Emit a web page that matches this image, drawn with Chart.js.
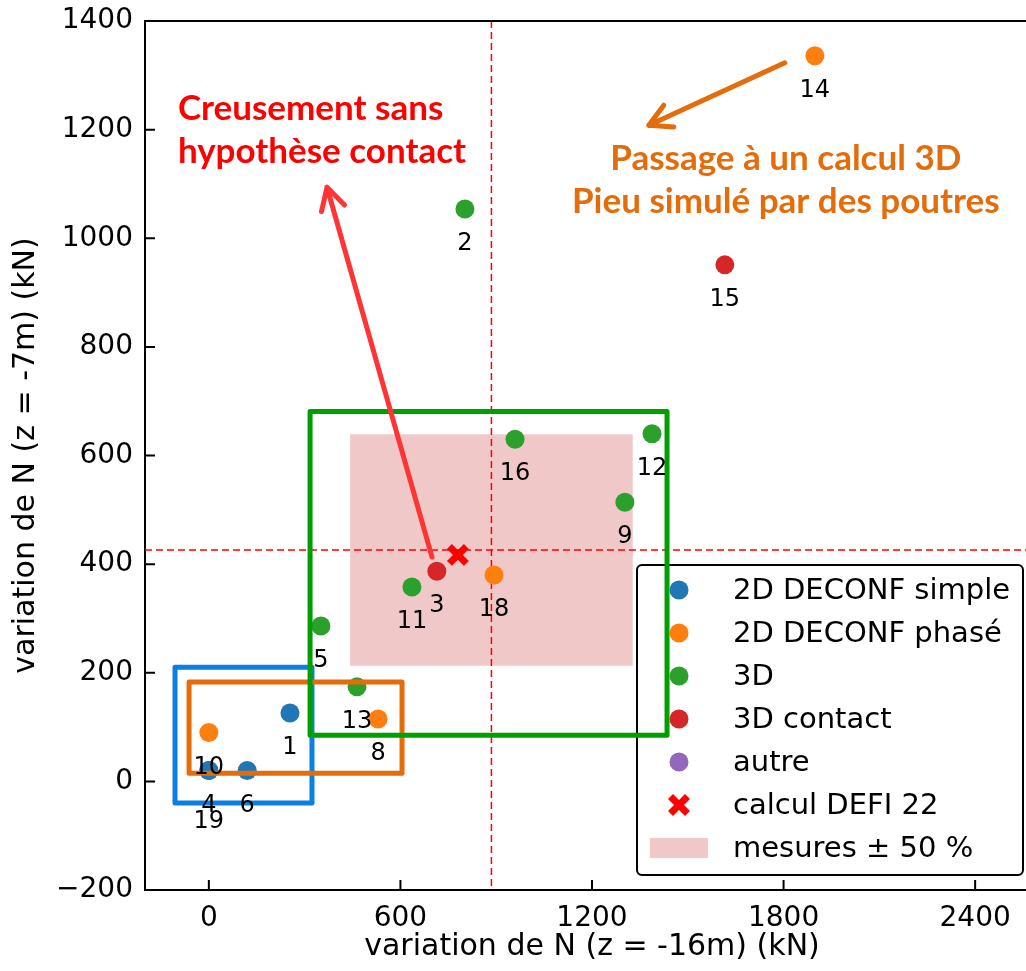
<!DOCTYPE html>
<html>
<head>
<meta charset="utf-8">
<script src="https://cdn.jsdelivr.net/npm/chart.js@4.4.1/dist/chart.umd.min.js"></script>
<style>
  html, body { margin: 0; padding: 0; background: #fff; overflow: hidden; }
  #wrap { width: 1040px; height: 971px; }
</style>
</head>
<body>
<div id="wrap"><canvas id="chart" width="1040" height="971"></canvas></div>
<script>
// point values (kN)
var simpleIds = [1, 4, 6, 19];
var simpleX = [254, 0, 120, 0];
var simpleY = [126, 20, 20, 20];

var phaseIds = [10, 8, 18, 14];
var phaseX = [0, 530, 893, 1898];
var phaseY = [90, 115, 380, 1336];

var d3Ids = [2, 5, 11, 13, 16, 9, 12];
var d3X = [802, 351, 636, 464, 959, 1303, 1388];
var d3Y = [1054, 286, 358, 174, 630, 514, 640];

var contactIds = [3, 15];
var contactX = [714, 1616];
var contactY = [387, 951];

var defiX = [780];
var defiY = [417];

// measured values, shown as dashed lines and a +/- 50 % band
var mesureX = 885;
var mesureY = 426;

// groups outlined by rectangles [xmin, xmax, ymin, ymax]
var boxSimple = [-106, 323, -40, 210];
var boxPhase = [-62, 605, 15, 183];
var box3D = [317, 1435, 85, 681];

var xTicks = [0, 600, 1200, 1800, 2400];
var yTicks = [-200, 0, 200, 400, 600, 800, 1000, 1200, 1400];

var legendNames = ['2D DECONF simple', '2D DECONF phasé', '3D', '3D contact', 'autre', 'calcul DEFI 22', 'mesures ± 50 %'];
var xTitle = 'variation de N (z = -16m) (kN)';
var yTitle = 'variation de N (z = -7m) (kN)';

function pts(xs, ys) {
  return xs.map(function(x, i) { return {x: x, y: ys[i]} })
}

var colors = {
  simple: '#1f77b4', phase: '#ff7f0e', d3: '#2ca02c', contact: '#d62728', autre: '#9467bd'
}

// annotations (arrows and comments)
var notes = {
  red: {from: [699, 413], to: [370, 1094], color: '#ff3535'},
  orange: {from: [1804, 1323], to: [1378, 1208], color: '#e46c0a'},
  redText: {lines: ['Creusement sans', 'hypothèse contact'], x: -97, y: [1218, 1139], color: '#ff0000', align: 'left'},
  orangeText: {lines: ['Passage à un calcul 3D', 'Pieu simulé par des poutres'], x: 1807, y: [1126, 1046], color: '#e46c0a', align: 'center'}
}
var labelNudge = {19: 16};

function minus(v) { return v < 0 ? '\u2212' + Math.abs(v) : '' + v }

function drawArrow(ctx, x1, y1, x2, y2, color) {
  var a = Math.atan2(y2 - y1, x2 - x1);
  var len = 25, spread = 0.5;
  ctx.save();
  ctx.strokeStyle = color;
  ctx.lineWidth = 5;
  ctx.lineCap = 'round';
  ctx.lineJoin = 'round';
  ctx.beginPath();
  ctx.moveTo(x1, y1);
  ctx.lineTo(x2, y2);
  ctx.moveTo(x2 - len * Math.cos(a - spread), y2 - len * Math.sin(a - spread));
  ctx.lineTo(x2, y2);
  ctx.lineTo(x2 - len * Math.cos(a + spread), y2 - len * Math.sin(a + spread));
  ctx.stroke();
  ctx.restore();
}

function drawX(ctx, cx, cy) {
  ctx.save();
  ctx.strokeStyle = '#ff0000';
  ctx.lineWidth = 7;
  ctx.beginPath();
  ctx.moveTo(cx - 8.5, cy - 8.5); ctx.lineTo(cx + 8.5, cy + 8.5);
  ctx.moveTo(cx - 8.5, cy + 8.5); ctx.lineTo(cx + 8.5, cy - 8.5);
  ctx.stroke();
  ctx.restore();
}

var decor = {
  id: 'decor',
  beforeDatasetsDraw: function(chart) {
    var ctx = chart.ctx, xs = chart.scales.x, ys = chart.scales.y, a = chart.chartArea;
    ctx.save();
    // band +/- 50 %
    var l = xs.getPixelForValue(mesureX * 0.5), r = xs.getPixelForValue(mesureX * 1.5);
    var t = ys.getPixelForValue(mesureY * 1.5), b = ys.getPixelForValue(mesureY * 0.5);
    ctx.fillStyle = '#f0c8c8';
    ctx.fillRect(l, t, r - l, b - t);
    // measured values
    ctx.strokeStyle = '#ff0000';
    ctx.lineWidth = 1.5;
    ctx.setLineDash([7, 4]);
    var px = xs.getPixelForValue(mesureX), py = ys.getPixelForValue(mesureY);
    ctx.beginPath();
    ctx.moveTo(px, a.top); ctx.lineTo(px, a.bottom);
    ctx.moveTo(a.left, py); ctx.lineTo(chart.width, py);
    ctx.stroke();
    ctx.restore();
  },
  afterDatasetsDraw: function(chart) {
    var ctx = chart.ctx, xs = chart.scales.x, ys = chart.scales.y, a = chart.chartArea;
    function X(v) { return xs.getPixelForValue(v) }
    function Y(v) { return ys.getPixelForValue(v) }

    // legend
    ctx.save();
    var lx = 637, ly = 565, lw = 386, lh = 310;
    ctx.beginPath();
    ctx.roundRect(lx, ly, lw, lh, 5);
    ctx.fillStyle = 'rgba(255,255,255,0.85)';
    ctx.fill();
    ctx.lineWidth = 2;
    ctx.strokeStyle = '#000';
    ctx.stroke();
    var markCols = [colors.simple, colors.phase, colors.d3, colors.contact, colors.autre];
    ctx.font = '29px "DejaVu Sans"';
    ctx.textBaseline = 'middle';
    ctx.textAlign = 'left';
    legendNames.forEach(function(name, i) {
      var ry = 590 + i * 43;
      if (i < 5) {
        ctx.beginPath();
        ctx.arc(679, ry, 9.5, 0, Math.PI * 2);
        ctx.fillStyle = markCols[i];
        ctx.fill();
      } else if (i == 5) {
        drawX(ctx, 679, ry);
      } else {
        ctx.fillStyle = '#f0c8c8';
        ctx.fillRect(650, ry - 10, 58, 20);
      }
      ctx.fillStyle = '#000';
      ctx.fillText(name, 733, ry + 1);
    });
    ctx.restore();

    // group rectangles
    ctx.save();
    ctx.lineWidth = 5;
    ctx.lineJoin = 'round';
    [[boxSimple, '#0a7fe0'], [boxPhase, '#e46c0a'], [box3D, '#009f00']].forEach(function(bx) {
      var r = bx[0];
      ctx.strokeStyle = bx[1];
      ctx.strokeRect(X(r[0]), Y(r[3]), X(r[1]) - X(r[0]), Y(r[2]) - Y(r[3]));
    });
    ctx.restore();

    // point numbers
    ctx.save();
    ctx.font = '24px "DejaVu Sans"';
    ctx.fillStyle = '#000';
    ctx.textAlign = 'center';
    ctx.textBaseline = 'middle';
    chart.data.datasets.forEach(function(ds) {
      if (!ds.ids) return;
      ds.data.forEach(function(p, i) {
        var id = ds.ids[i];
        ctx.fillText(id, X(p.x), Y(p.y) + 35 + (labelNudge[id] || 0));
      });
    });
    ctx.restore();

    // arrows and comments
    drawArrow(ctx, X(notes.red.from[0]), Y(notes.red.from[1]), X(notes.red.to[0]), Y(notes.red.to[1]), notes.red.color);
    drawArrow(ctx, X(notes.orange.from[0]), Y(notes.orange.from[1]), X(notes.orange.to[0]), Y(notes.orange.to[1]), notes.orange.color);
    [notes.redText, notes.orangeText].forEach(function(n) {
      ctx.save();
      ctx.font = 'bold 35px Lato';
      ctx.fillStyle = n.color;
      ctx.textAlign = n.align;
      ctx.textBaseline = 'alphabetic';
      n.lines.forEach(function(s, i) { ctx.fillText(s, X(n.x), Y(n.y[i])) });
      ctx.restore();
    });

    // top spine (figure is cropped on the right) and inward ticks
    ctx.save();
    ctx.strokeStyle = '#000';
    ctx.lineWidth = 2;
    ctx.beginPath();
    ctx.moveTo(a.left, a.top); ctx.lineTo(chart.width, a.top);
    ctx.moveTo(a.right, a.bottom); ctx.lineTo(chart.width, a.bottom);
    xTicks.forEach(function(v) { ctx.moveTo(X(v), a.bottom); ctx.lineTo(X(v), a.bottom - 10) });
    yTicks.forEach(function(v) { ctx.moveTo(a.left, Y(v)); ctx.lineTo(a.left + 10, Y(v)) });
    ctx.stroke();
    ctx.restore();

    // x title, centred on the full (uncropped) axis -200..2600
    ctx.save();
    ctx.font = '30px "DejaVu Sans"';
    ctx.fillStyle = '#000';
    ctx.textAlign = 'center';
    ctx.textBaseline = 'middle';
    ctx.fillText(xTitle, X(1200), 947);
    ctx.restore();
  }
}

Chart.defaults.font.family = '"DejaVu Sans"';
Chart.defaults.color = '#000';

var ctx = document.getElementById('chart').getContext('2d');
var chart = new Chart(ctx, {
  type: 'scatter',
  data: {
    datasets: [
      {label: legendNames[0], ids: simpleIds, data: pts(simpleX, simpleY), backgroundColor: colors.simple},
      {label: legendNames[1], ids: phaseIds, data: pts(phaseX, phaseY), backgroundColor: colors.phase},
      {label: legendNames[2], ids: d3Ids, data: pts(d3X, d3Y), backgroundColor: colors.d3},
      {label: legendNames[3], ids: contactIds, data: pts(contactX, contactY), backgroundColor: colors.contact},
      {label: legendNames[5], data: pts(defiX, defiY), pointStyle: 'crossRot', radius: 12, hoverRadius: 12, borderColor: '#ff0000', borderWidth: 7, backgroundColor: '#ff0000'}
    ]
  },
  options: {
    responsive: false,
    animation: false,
    devicePixelRatio: 1,
    layout: {padding: {top: 21, right: 1, left: 0, bottom: 0}},
    elements: {point: {radius: 9.5, hoverRadius: 9.5, borderWidth: 0}},
    plugins: {legend: {display: false}, tooltip: {enabled: false}},
    scales: {
      x: {
        type: 'linear', min: -200, max: 2600,
        afterBuildTicks: function(s) { s.ticks = xTicks.map(function(v) { return {value: v} }) },
        afterFit: function(s) { s.height = 81; s.paddingLeft = 0; s.paddingRight = 0 },
        grid: {display: false, drawTicks: false},
        border: {display: true, color: '#000', width: 2},
        ticks: {padding: 12, font: {size: 28}, maxRotation: 0, callback: function(v) { return minus(v) }},
        title: {display: false}
      },
      y: {
        type: 'linear', min: -200, max: 1400,
        afterBuildTicks: function(s) { s.ticks = yTicks.map(function(v) { return {value: v} }) },
        afterFit: function(s) { s.width = 145; s.paddingTop = 0; s.paddingBottom = 0 },
        grid: {display: false, drawTicks: false},
        border: {display: true, color: '#000', width: 2},
        ticks: {padding: 12, font: {size: 28}, callback: function(v) { return minus(v) }},
        title: {display: true, text: yTitle, font: {size: 30}, padding: {top: 8, bottom: 0}}
      }
    }
  },
  plugins: [decor]
});

// keep the figure's x scale (600 kN = 191.6 px): the plot is cropped on the right,
// so the visible max follows from how wide the plot area came out
var pxPerUnit = 894 / 2800;
for (var k = 0; k < 3; k++) {
  var xs = chart.scales.x;
  var want = -200 + (xs.right - xs.left) / pxPerUnit;
  if (Math.abs(want - chart.options.scales.x.max) < 0.5) break;
  chart.options.scales.x.max = want;
  chart.update();
}
</script>
</body>
</html>
